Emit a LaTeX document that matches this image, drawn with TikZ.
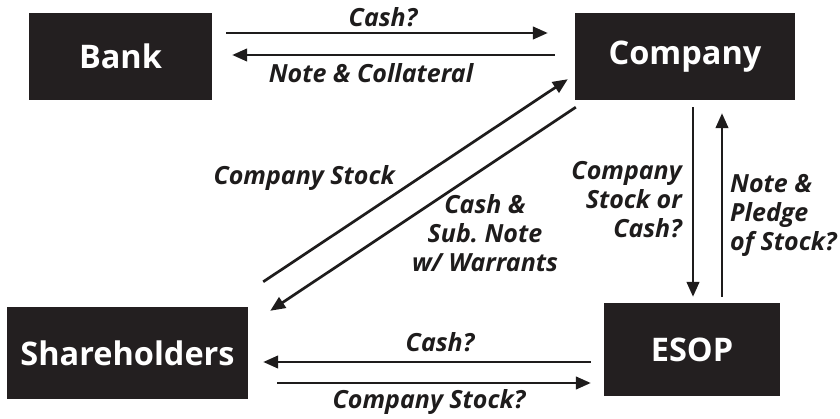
\documentclass[tikz,border=0pt]{standalone}
\usepackage{fontspec}
\setmainfont{Open Sans}
\usetikzlibrary{arrows.meta}
\definecolor{boxblack}{RGB}{35,31,32}
\definecolor{inkblack}{RGB}{30,28,28}
\frenchspacing
\begin{document}
\begin{tikzpicture}[x=1pt,y=-1pt,
  party/.style={fill=boxblack, text=white, inner sep=0pt,
    font=\fontsize{32.5}{36}\selectfont\bfseries},
  flow/.style={draw=inkblack, line width=2.7pt,
    -{Triangle[length=15pt,width=12.5pt]}},
  lbl/.style={text=inkblack, inner sep=0pt,
    font=\fontsize{25}{29}\selectfont\bfseries\itshape}]
% canvas
\fill[white] (0,0) rectangle (840,419);
% parties
\node[party, minimum width=183pt, minimum height=87pt] (bank) at (120.5,56.5) {Bank};
\node[party, minimum width=220pt, minimum height=87pt] (company) at (685,56.5) {Company};
\node[party, minimum width=241pt, minimum height=92pt] (share) at (127.5,353) {Shareholders};
\node[party, minimum width=176pt, minimum height=93pt] (esop) at (692,349.5) {ESOP};
% bank <-> company
\draw[flow] ([xshift=14pt,yshift=23.5pt]bank.east) -- ([xshift=-27pt,yshift=23.5pt]company.west);
\draw[flow] ([xshift=-20pt,yshift=1.5pt]company.west) -- ([xshift=20pt,yshift=1.5pt]bank.east);
% shareholders <-> company
\draw[flow] ([xshift=15pt,yshift=25pt]share.north east) -- ([xshift=-7pt,yshift=21pt]company.south west);
\draw[flow] ([xshift=1pt,yshift=-7pt]company.south west) -- ([xshift=22pt,yshift=-4pt]share.north east);
% company <-> esop
\draw[flow] ([xshift=8pt,yshift=-7pt]company.south) -- ([xshift=1pt,yshift=6pt]esop.north);
\draw[flow] ([xshift=30pt,yshift=6pt]esop.north) -- ([xshift=37pt,yshift=-13pt]company.south);
% esop <-> shareholders
\draw[flow] ([xshift=-13pt,yshift=-12.5pt]esop.west) -- ([xshift=15pt,yshift=-9pt]share.east);
\draw[flow] ([xshift=29pt,yshift=-30pt]share.east) -- ([xshift=-13pt,yshift=-33.5pt]esop.west);
% labels (multi-line nodes are placed by the baseline of their last line)
\node[lbl, anchor=base] (l1) at (383,27) {Cash?};
\node[lbl, anchor=base] (l2) at (371,83) {Note \& Collateral};
\node[lbl, anchor=base east] (l3) at (395,185) {Company Stock};
\node[lbl, anchor=base, align=center] (l4) at (485,272) {Cash \&\\Sub. Note\\w/ Warrants};
\node[lbl, anchor=base east, align=right] (l5) at (682,238) {Company\\Stock or\\Cash?};
\node[lbl, anchor=base west, align=left] (l6) at (730,251) {Note \&\\Pledge\\of Stock?};
\node[lbl, anchor=base] (l7) at (440,352) {Cash?};
\node[lbl, anchor=base] (l8) at (429,408) {Company Stock?};
\end{tikzpicture}
\end{document}
